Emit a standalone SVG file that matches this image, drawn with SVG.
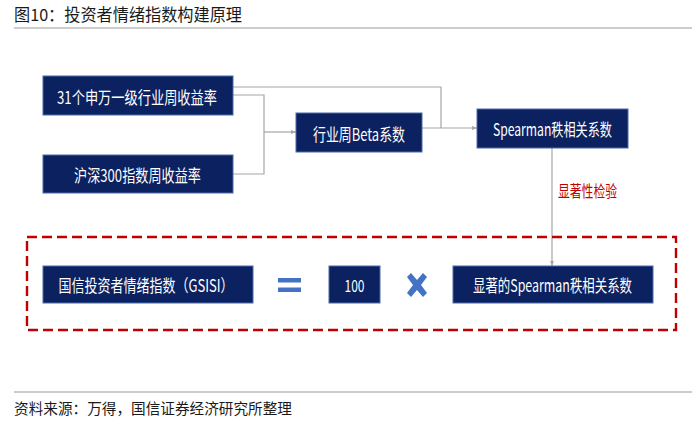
<svg xmlns="http://www.w3.org/2000/svg" width="700" height="424" viewBox="0 0 700 424">
<style>
  .box { fill: #0c2260; stroke: #4a6aa8; stroke-width: 1; }
  .bt { fill: #ffffff; font-family: "Noto Sans CJK SC", "Liberation Sans", sans-serif; font-size: 17px; text-anchor: middle; dominant-baseline: central; }
  .conn { fill: none; stroke: #a6a6a6; stroke-width: 1.2; }
  .rule { stroke: #9a9a9a; stroke-width: 1.2; }
  .cap { font-family: "Noto Sans CJK SC", "Liberation Sans", sans-serif; fill: #1a1a1a; }
  .sym { fill: #4472c4; }
</style>
<defs>
  <marker id="arr" viewBox="0 0 10 10" refX="10" refY="5" markerWidth="5" markerHeight="5" orient="auto" markerUnits="userSpaceOnUse">
    <path d="M0,1 L10,5 L0,9 z" fill="#a6a6a6"/>
  </marker>
</defs>
<rect width="700" height="424" fill="#ffffff"/>

<text class="cap" x="14" y="21" font-size="16.5" textLength="228" lengthAdjust="spacingAndGlyphs">图10：投资者情绪指数构建原理</text>
<line class="rule" x1="14" y1="28" x2="692" y2="28"/>

<g id="connectors">
  <polyline class="conn" points="233,87 441,87 441,128"/>
  <polyline class="conn" points="233,95 264,95 264,174 233,174"/>
  <line class="conn" x1="264" y1="132" x2="296" y2="132" marker-end="url(#arr)"/>
  <line class="conn" x1="422" y1="128" x2="477" y2="128" marker-end="url(#arr)"/>
  <line class="conn" x1="552" y1="148" x2="552" y2="266" marker-end="url(#arr)"/>
</g>

<text id="label-test" x="587.5" y="190" font-family="Noto Sans CJK SC, Liberation Sans, sans-serif" font-size="16" fill="#c00000" text-anchor="middle" dominant-baseline="central" textLength="59" lengthAdjust="spacingAndGlyphs">显著性检验</text>

<rect id="group-box" x="27" y="237" width="649" height="93" fill="none" stroke="#c00000" stroke-width="2.4" stroke-dasharray="10,5"/>

<g id="n1">
  <rect class="box" x="43" y="76" width="190" height="39"/>
  <text class="bt" x="137" y="96" textLength="160" lengthAdjust="spacingAndGlyphs">31个申万一级行业周收益率</text>
</g>
<g id="n2">
  <rect class="box" x="43" y="155" width="190" height="38"/>
  <text class="bt" x="137.5" y="174" textLength="127" lengthAdjust="spacingAndGlyphs">沪深300指数周收益率</text>
</g>
<g id="n3">
  <rect class="box" x="296" y="113" width="126" height="39"/>
  <text class="bt" x="359" y="133" textLength="92" lengthAdjust="spacingAndGlyphs">行业周Beta系数</text>
</g>
<g id="n4">
  <rect class="box" x="477" y="109" width="151" height="39"/>
  <text class="bt" x="552.5" y="128.5" textLength="119" lengthAdjust="spacingAndGlyphs">Spearman秩相关系数</text>
</g>
<g id="n5">
  <rect class="box" x="43" y="266" width="210" height="37"/>
  <text class="bt" x="146" y="284.5" textLength="175" lengthAdjust="spacingAndGlyphs">国信投资者情绪指数（GSISI）</text>
</g>
<g id="eq">
  <rect class="sym" x="278" y="278" width="23" height="4.5"/>
  <rect class="sym" x="278" y="287.5" width="23" height="4.5"/>
</g>
<g id="n6">
  <rect class="box" x="329" y="266" width="51" height="37"/>
  <text class="bt" x="354.5" y="284.5" font-size="16" textLength="20" lengthAdjust="spacingAndGlyphs">100</text>
</g>
<g id="times">
  <path class="sym" d="M407,277 L411,273 L417,280 L423,273 L427,277 L421,285 L427,293 L423,297 L417,290 L411,297 L407,293 L413,285 Z"/>
</g>
<g id="n7">
  <rect class="box" x="453" y="266" width="200" height="37"/>
  <text class="bt" x="552.5" y="284.5" textLength="159" lengthAdjust="spacingAndGlyphs">显著的Spearman秩相关系数</text>
</g>

<line class="rule" x1="14" y1="392" x2="692" y2="392"/>
<text class="cap" x="14" y="414" font-size="15" textLength="278" lengthAdjust="spacingAndGlyphs">资料来源：万得，国信证券经济研究所整理</text>
</svg>
